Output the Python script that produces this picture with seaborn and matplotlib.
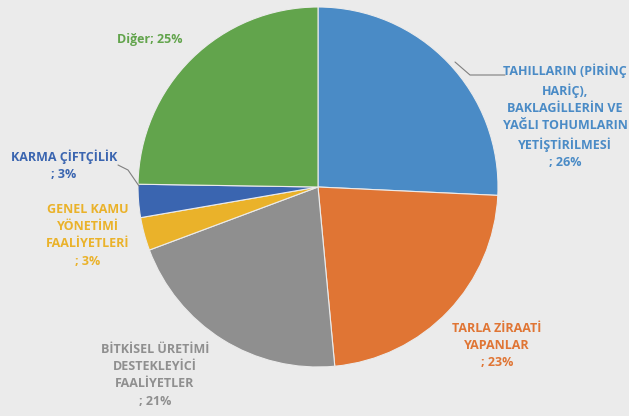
import matplotlib.pyplot as plt
import numpy as np
import seaborn as sns

# Data (clockwise from 12 o'clock)
categories = ['TAHILLARIN (PİRİNÇ\nHARİÇ),\nBAKLAGİLLERİN VE\nYAĞLI TOHUMLARIN\nYETİŞTİRİLMESİ',
              'TARLA ZİRAATİ\nYAPANLAR',
              'BİTKİSEL ÜRETİMİ\nDESTEKLEYİCİ\nFAALİYETLER',
              'GENEL KAMU\nYÖNETİMİ\nFAALİYETLERİ',
              'KARMA ÇİFTÇİLİK',
              'Diğer']
shares = [26, 23, 21, 3, 3, 25]
colors = ['#4a8bc6', '#e07534', '#8f8f8f', '#eab22a', '#3a65b0', '#62a44c']

sns.set_theme(style='white')
plt.rcParams['font.family'] = ['Open Sans', 'DejaVu Sans']

H = 416
bg = '#ebebeb'
fig = plt.figure(figsize=(6.29, 4.16), dpi=100, facecolor=bg)
ax = fig.add_axes([0, 0, 1, 1], facecolor=bg)

palette = sns.color_palette(colors)
ax.pie(shares, colors=palette, startangle=90, counterclock=False,
       center=(318, H - 187), radius=180, frame=True,
       wedgeprops=dict(linewidth=0.8, edgecolor=bg))
ax.set_xlim(0, 629)
ax.set_ylim(0, H)
ax.set_aspect('equal')
ax.axis('off')

# label positions (pixel layout, measured from top)
label_pos = [(565, 64), (497, 322), (155, 343), (88, 203), (64, 149), (150, 33)]
for cat, val, col, (x, y) in zip(categories, shares, palette, label_pos):
    if cat == 'Diğer':
        txt = f'{cat}; {val}%'
    else:
        txt = f'{cat}\n; {val}%'
    ax.text(x, H - y, txt, ha='center', va='top', color=col, fontsize=9.0,
            fontweight='bold', linespacing=1.42)

# leader lines
ax.plot([455, 470, 505], [H - 62, H - 75, H - 75], color='#7f7f7f', lw=0.8)
ax.plot([118, 128, 139], [H - 165, H - 170, H - 186], color='#7f7f7f', lw=0.8)

fig.savefig('out.png', dpi=100, facecolor=bg)
